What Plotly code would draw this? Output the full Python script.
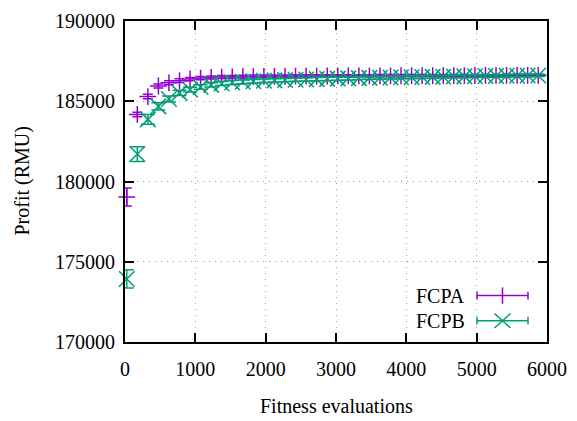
import plotly.graph_objects as go

# ---- data ----
evals = [25, 175, 325, 475, 625, 775, 925, 1075, 1225, 1375,
         1525, 1675, 1825, 1975, 2125, 2275, 2425, 2575, 2725, 2875,
         3025, 3175, 3325, 3475, 3625, 3775, 3925, 4075, 4225, 4375,
         4525, 4675, 4825, 4975, 5125, 5275, 5425, 5575, 5725, 5875]

fcpa = [179040, 184180, 185290, 185950, 186150, 186285, 186385, 186445, 186485, 186505,
        186520, 186530, 186540, 186545, 186550, 186555, 186560, 186565, 186570, 186572,
        186575, 186578, 186580, 186582, 186585, 186587, 186590, 186592, 186594, 186596,
        186598, 186600, 186602, 186604, 186606, 186608, 186610, 186612, 186614, 186616]
fcpa_err = [560, 140, 140, 130, 120, 110, 100, 100, 95, 95,
            90, 90, 90, 85, 85, 85, 85, 80, 80, 80,
            80, 80, 75, 75, 75, 75, 75, 70, 70, 70,
            70, 70, 70, 70, 65, 65, 65, 65, 65, 65]

fcpb = [173930, 181710, 183870, 184680, 185140, 185520, 185720, 185890, 186020, 186110,
        186170, 186210, 186245, 186275, 186300, 186320, 186340, 186360, 186380, 186395,
        186410, 186425, 186440, 186455, 186470, 186480, 186490, 186500, 186510, 186520,
        186530, 186540, 186550, 186560, 186570, 186578, 186586, 186594, 186602, 186610]
fcpb_err = [570, 460, 300, 220, 180, 160, 150, 140, 130, 125,
            120, 115, 110, 110, 105, 105, 100, 100, 100, 95,
            95, 95, 90, 90, 90, 90, 85, 85, 85, 85,
            80, 80, 80, 80, 80, 75, 75, 75, 75, 75]

x_ticks = [0, 1000, 2000, 3000, 4000, 5000, 6000]
x_labels = ["0", "1000", "2000", "3000", "4000", "5000", "6000"]
y_ticks = [170000, 175000, 180000, 185000, 190000]
y_labels = ["170000", "175000", "180000", "185000", "190000"]
names = ["FCPA", "FCPB"]

PURPLE = "#9400d3"
GREEN = "#009e73"
FONT = "Times New Roman, Liberation Serif, serif"

fig = go.Figure()
fig.add_trace(go.Scatter(
    x=evals, y=fcpa, name=names[0], mode="markers",
    marker=dict(symbol="cross-thin", size=12, line=dict(color=PURPLE, width=1.5)),
    error_y=dict(type="data", array=fcpa_err, color=PURPLE, thickness=1.5, width=5),
    showlegend=False, cliponaxis=False))
fig.add_trace(go.Scatter(
    x=evals, y=fcpb, name=names[1], mode="markers",
    marker=dict(symbol="x-thin", size=15.5, line=dict(color=GREEN, width=1.5)),
    error_y=dict(type="data", array=fcpb_err, color=GREEN, thickness=1.5, width=7),
    showlegend=False, cliponaxis=False))

W, H = 577, 421
L, R, T, B = 125, 547, 10, 342


def px(x):
    return (x - L) / (R - L)


def py(y):
    return (B - y) / (B - T)


shapes = []
annotations = []
legend_rows = [(names[0], PURPLE, 294, "plus"), (names[1], GREEN, 320, "x")]
for name, col, yc, mk in legend_rows:
    x0, x1, xm = 477, 528, 502.5
    ln = dict(color=col, width=1.5)
    shapes.append(dict(type="line", xref="paper", yref="paper",
                       x0=px(x0), x1=px(x1), y0=py(yc), y1=py(yc), line=ln))
    for xe in (x0, x1):
        shapes.append(dict(type="line", xref="paper", yref="paper",
                           x0=px(xe), x1=px(xe), y0=py(yc - 4), y1=py(yc + 4), line=ln))
    if mk == "plus":
        shapes.append(dict(type="line", xref="paper", yref="paper",
                           x0=px(xm), x1=px(xm), y0=py(yc - 8.5), y1=py(yc + 8.5), line=ln))
    else:
        shapes.append(dict(type="line", xref="paper", yref="paper",
                           x0=px(xm - 8), x1=px(xm + 8), y0=py(yc - 7.5), y1=py(yc + 7.5), line=ln))
        shapes.append(dict(type="line", xref="paper", yref="paper",
                           x0=px(xm - 8), x1=px(xm + 8), y0=py(yc + 7.5), y1=py(yc - 7.5), line=ln))
    annotations.append(dict(text=name, xref="paper", yref="paper", x=px(467), y=py(yc),
                            xanchor="right", yanchor="middle", showarrow=False,
                            font=dict(family=FONT, size=20, color="black")))

annotations.append(dict(text="Fitness evaluations", xref="paper", yref="paper",
                        x=0.5, y=py(408), xanchor="center", yanchor="middle",
                        showarrow=False, font=dict(family=FONT, size=20, color="black")))
annotations.append(dict(text="Profit (RMU)", xref="paper", yref="paper",
                        x=px(22), y=py(176), xanchor="center", yanchor="middle",
                        textangle=-90, showarrow=False,
                        font=dict(family=FONT, size=20, color="black")))

axis_common = dict(
    showline=True, linecolor="black", linewidth=2, mirror="ticks",
    ticks="inside", ticklen=9, tickwidth=1.5, tickcolor="black",
    showgrid=True, gridcolor="#a0a0a0", gridwidth=1, griddash="1px,5px",
    zeroline=False, tickfont=dict(family=FONT, size=20, color="black"),
    tickmode="array",
)

fig.update_layout(
    width=W, height=H,
    font=dict(family=FONT, size=20, color="black"),
    margin=dict(l=L, r=W - R, t=T, b=H - B),
    paper_bgcolor="white", plot_bgcolor="white",
    xaxis=dict(range=[0, 6000], tickvals=x_ticks, ticktext=x_labels,
               ticklabelstandoff=8, **axis_common),
    yaxis=dict(range=[170000, 190000], tickvals=y_ticks, ticktext=y_labels,
               ticklabelstandoff=4, **axis_common),
    shapes=shapes, annotations=annotations,
)

fig.write_html("out.html")
